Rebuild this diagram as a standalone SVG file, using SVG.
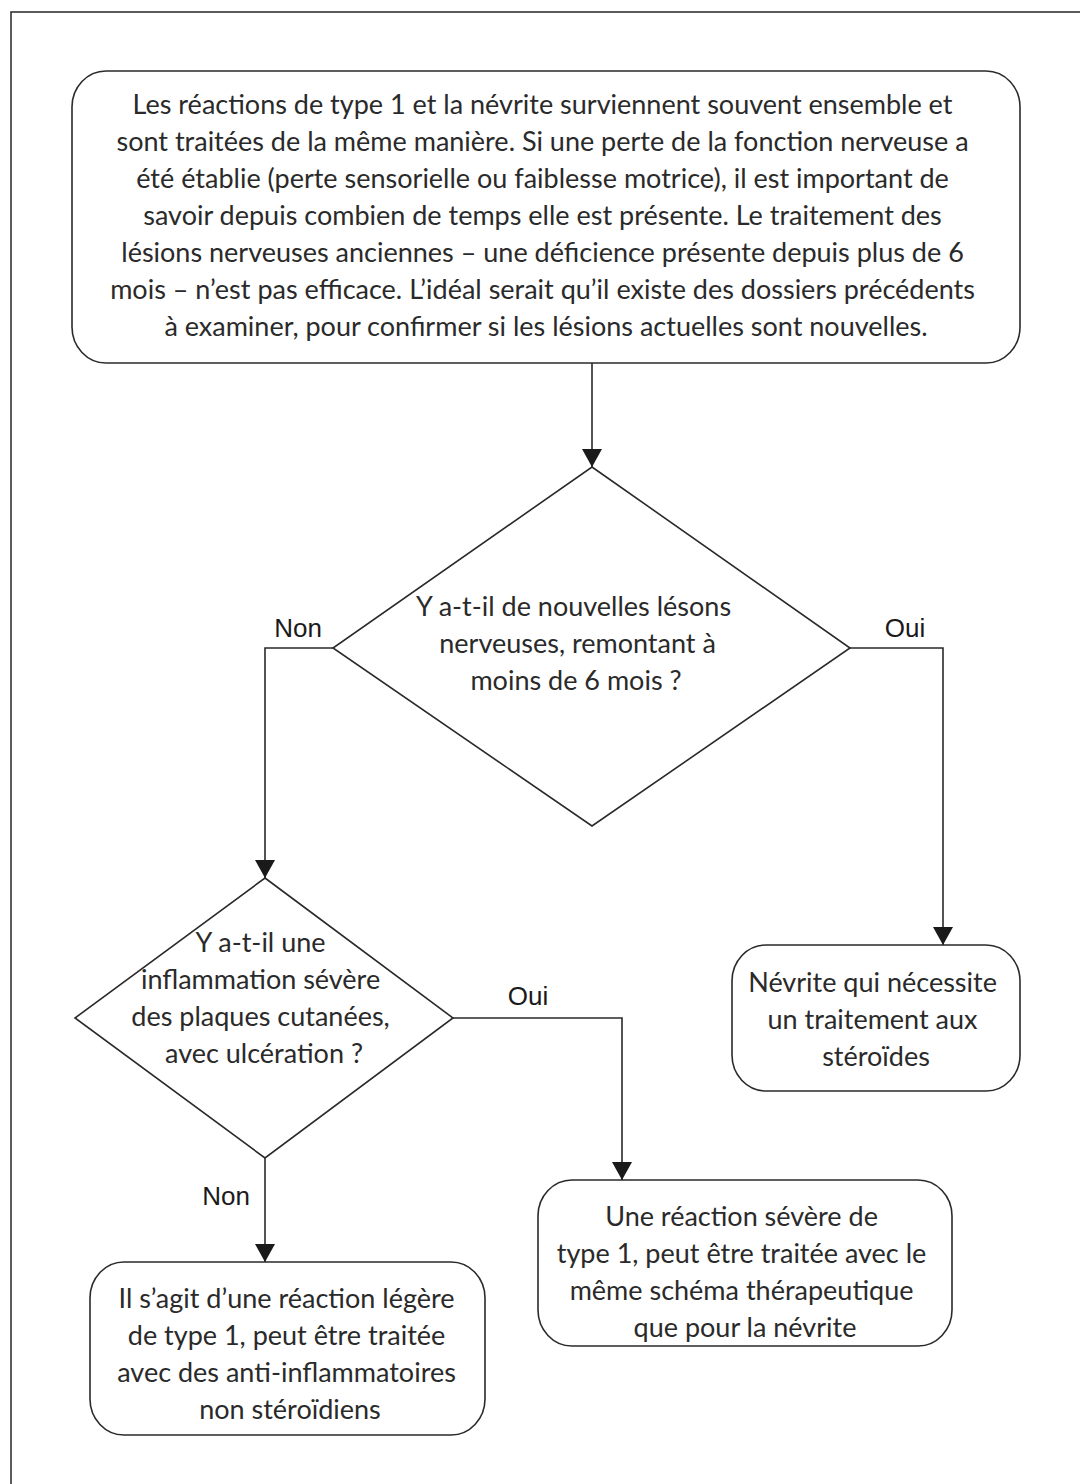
<svg xmlns="http://www.w3.org/2000/svg" width="1080" height="1484" viewBox="0 0 1080 1484">
  <style>
    .frame { fill: none; stroke: #333; stroke-width: 1.6; }
    .box { fill: #fff; stroke: #2a2a2a; stroke-width: 1.6; }
    .wire { fill: none; stroke: #2a2a2a; stroke-width: 1.6; }
    .txt { font-family: Lato, "Open Sans", sans-serif; font-size: 27px; fill: #2a2a2a; text-anchor: middle; }
    .lbl { font-family: "Liberation Sans", Arial, sans-serif; font-size: 26px; fill: #1a1a1a; text-anchor: middle; }
  </style>
  <defs>
    <marker id="arrow" viewBox="0 0 18 20" refX="18" refY="10" markerWidth="18" markerHeight="20" markerUnits="userSpaceOnUse" orient="auto">
      <path d="M0,0 L18,10 L0,20 z" fill="#1a1a1a"/>
    </marker>
  </defs>

  <rect width="1080" height="1484" fill="#fff"/>
  <!-- page frame (open on right and bottom) -->
  <rect class="frame" x="11" y="12" width="1200" height="1600"/>

  <g id="intro">
    <rect class="box" x="72" y="71" width="948" height="292" rx="34" ry="36"/>
    <text class="txt">
      <tspan x="546" y="114">Les réactions de type 1 et la névrite surviennent souvent ensemble et</tspan>
      <tspan x="546" y="151">sont traitées de la même manière. Si une perte de la fonction nerveuse a</tspan>
      <tspan x="546" y="188">été établie (perte sensorielle ou faiblesse motrice), il est important de</tspan>
      <tspan x="546" y="225">savoir depuis combien de temps elle est présente. Le traitement des</tspan>
      <tspan x="546" y="262">lésions nerveuses anciennes – une déficience présente depuis plus de 6</tspan>
      <tspan x="546" y="299">mois – n’est pas efficace. L’idéal serait qu’il existe des dossiers précédents</tspan>
      <tspan x="546" y="336">à examiner, pour confirmer si les lésions actuelles sont nouvelles.</tspan>
    </text>
  </g>

  <g id="q-new-lesions">
    <polygon class="box" points="592,467 850,648 592,826 333,648"/>
    <text class="txt">
      <tspan x="577" y="616">Y a-t-il de nouvelles lésons</tspan>
      <tspan x="581" y="653">nerveuses, remontant à</tspan>
      <tspan x="576" y="690">moins de 6 mois ?</tspan>
    </text>
  </g>

  <g id="q-plaques">
    <polygon class="box" points="265,878 453,1018 265,1158 75,1018"/>
    <text class="txt">
      <tspan x="264" y="952">Y a-t-il une</tspan>
      <tspan x="264" y="989">inflammation sévère</tspan>
      <tspan x="264" y="1026">des plaques cutanées,</tspan>
      <tspan x="264" y="1063">avec ulcération ?</tspan>
    </text>
  </g>

  <g id="nevrite-steroides">
    <rect class="box" x="732" y="945" width="288" height="146" rx="34" ry="36"/>
    <text class="txt">
      <tspan x="876" y="992">Névrite qui nécessite</tspan>
      <tspan x="876" y="1029">un traitement aux</tspan>
      <tspan x="876" y="1066">stéroïdes</tspan>
    </text>
  </g>

  <g id="reaction-severe">
    <rect class="box" x="538" y="1180" width="414" height="166" rx="34" ry="36"/>
    <text class="txt">
      <tspan x="745" y="1226">Une réaction sévère de</tspan>
      <tspan x="745" y="1263">type 1, peut être traitée avec le</tspan>
      <tspan x="745" y="1300">même schéma thérapeutique</tspan>
      <tspan x="745" y="1337">que pour la névrite</tspan>
    </text>
  </g>

  <g id="reaction-legere">
    <rect class="box" x="90" y="1262" width="395" height="173" rx="34" ry="36"/>
    <text class="txt">
      <tspan x="290" y="1308">Il s’agit d’une réaction légère</tspan>
      <tspan x="290" y="1345">de type 1, peut être traitée</tspan>
      <tspan x="290" y="1382">avec des anti-inflammatoires</tspan>
      <tspan x="290" y="1419">non stéroïdiens</tspan>
    </text>
  </g>

  <g id="connectors">
    <path class="wire" d="M592,363 V467" marker-end="url(#arrow)"/>
    <path class="wire" d="M333,648 H265 V878" marker-end="url(#arrow)"/>
    <path class="wire" d="M850,648 H943 V945" marker-end="url(#arrow)"/>
    <path class="wire" d="M453,1018 H622 V1180" marker-end="url(#arrow)"/>
    <path class="wire" d="M265,1158 V1262" marker-end="url(#arrow)"/>
    <text class="lbl" x="298" y="637">Non</text>
    <text class="lbl" x="905" y="637">Oui</text>
    <text class="lbl" x="528" y="1005">Oui</text>
    <text class="lbl" x="226" y="1205">Non</text>
  </g>
</svg>
